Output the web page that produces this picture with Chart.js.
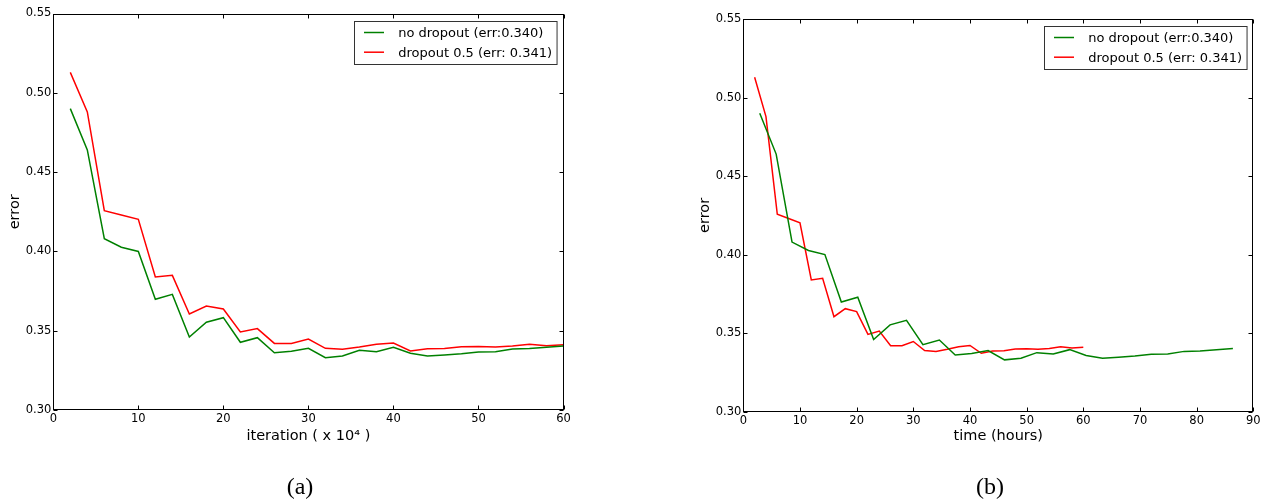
<!DOCTYPE html>
<html>
<head>
<meta charset="utf-8">
<script src="https://cdn.jsdelivr.net/npm/chart.js@4/dist/chart.umd.min.js"></script>
<style>
  html, body { margin: 0; padding: 0; background: #fff; }
  body { width: 1268px; height: 499px; position: relative; overflow: hidden; }
  canvas { position: absolute; top: 0; }
  #chartA { left: 0; }
  #chartB { left: 634px; }
  .caption {
    position: absolute; top: 472px; width: 80px; text-align: center;
    font-family: "Liberation Serif", serif; font-size: 24px; line-height: 28px; color: #000;
  }
</style>
</head>
<body>
<canvas id="chartA" width="634" height="499"></canvas>
<canvas id="chartB" width="634" height="499"></canvas>
<div class="caption" style="left:260px">(a)</div>
<div class="caption" style="left:950px">(b)</div>
<script>
// error values
const iterations = [2, 4, 6, 8, 10, 12, 14, 16, 18, 20, 22, 24, 26, 28, 30,
  32, 34, 36, 38, 40, 42, 44, 46, 48, 50, 52, 54, 56, 58, 60];
const noDropoutErr = [0.490, 0.464, 0.408, 0.4026, 0.400, 0.3698, 0.3729, 0.346, 0.3553, 0.3582,
  0.3427, 0.3456, 0.3361, 0.337, 0.3389, 0.333, 0.334, 0.3376, 0.3367, 0.3395,
  0.3358, 0.334, 0.3347, 0.3355, 0.3366, 0.3368, 0.3384, 0.3387, 0.3395, 0.3403];
const dropoutErr = [0.5129, 0.4879, 0.4257, 0.4230, 0.4202, 0.3839, 0.3849, 0.3605, 0.3656, 0.3637,
  0.3492, 0.3513, 0.342, 0.342, 0.3447, 0.3389, 0.3383, 0.3397, 0.3414, 0.3422,
  0.3372, 0.3386, 0.3388, 0.3399, 0.340, 0.3397, 0.3403, 0.3414, 0.3405, 0.3411];
const noDropoutHours = [2.9, 5.8, 8.6, 11.5, 14.4, 17.3, 20.2, 23.0, 25.9, 28.8,
  31.7, 34.6, 37.4, 40.3, 43.2, 46.1, 49.0, 51.8, 54.7, 57.6,
  60.5, 63.4, 66.2, 69.1, 72.0, 74.9, 77.8, 80.6, 83.5, 86.4];
const dropoutHours = [2, 4, 6, 8, 10, 12, 14, 16, 18, 20, 22, 24, 26, 28, 30,
  32, 34, 36, 38, 40, 42, 44, 46, 48, 50, 52, 54, 56, 58, 60];
const seriesLabels = ["no dropout (err:0.340)", "dropout 0.5 (err: 0.341)"];
const yTicks = [0.30, 0.35, 0.40, 0.45, 0.50, 0.55];

Chart.defaults.font.family = "'DejaVu Sans', sans-serif";
Chart.defaults.color = "#000";

const toPoints = (xs, ys) => xs.map((x, i) => ({ x: x, y: ys[i] }));

// matplotlib style frame: box all round, ticks pointing in, legend in the upper right corner
const framePlugin = {
  id: "frame",
  afterDatasetsDraw(chart) {
    const { ctx, chartArea: a, scales } = chart;
    const l = Math.round(a.left) + 0.5, r = Math.round(a.right) - 0.5;
    const t = Math.round(a.top) + 0.5, b = Math.round(a.bottom) - 0.5;
    ctx.save();
    ctx.strokeStyle = "#000";
    ctx.lineWidth = 1;
    ctx.strokeRect(l, t, r - l, b - t);
    ctx.beginPath();
    scales.x.ticks.forEach(tk => {
      const px = Math.round(scales.x.getPixelForValue(tk.value)) + 0.5;
      ctx.moveTo(px, b); ctx.lineTo(px, b - 4);
      ctx.moveTo(px, t); ctx.lineTo(px, t + 4);
    });
    scales.y.ticks.forEach(tk => {
      const py = Math.round(scales.y.getPixelForValue(tk.value)) + 0.5;
      ctx.moveTo(l, py); ctx.lineTo(l + 4, py);
      ctx.moveTo(r, py); ctx.lineTo(r - 4, py);
    });
    ctx.stroke();

    // legend box
    ctx.font = "13px 'DejaVu Sans'";
    const sets = chart.data.datasets;
    const textW = Math.max(...sets.map(d => ctx.measureText(d.label).width));
    const w = 43.7 + textW + 5, h = 43;
    const bx = Math.round(a.right - 7 - w) + 0.5, by = Math.round(a.top + 7) + 0.5;
    ctx.fillStyle = "#fff";
    ctx.fillRect(bx, by, w, h);
    ctx.strokeStyle = "#333";
    ctx.strokeRect(bx, by, w, h);
    ctx.textBaseline = "middle";
    ctx.textAlign = "left";
    sets.forEach((d, i) => {
      const ry = by + 11 + i * 19.7;
      ctx.strokeStyle = d.borderColor;
      ctx.lineWidth = 1.5;
      ctx.beginPath();
      ctx.moveTo(bx + 9.5, ry); ctx.lineTo(bx + 29.5, ry);
      ctx.stroke();
      ctx.fillStyle = "#000";
      ctx.fillText(d.label, bx + 43.7, ry + 1);
    });
    ctx.restore();
  }
};

function makeChart(id, greenX, redX, xMax, xTitle, geo) {
  return new Chart(document.getElementById(id), {
    type: "line",
    data: {
      datasets: [
        { label: seriesLabels[0], data: toPoints(greenX, noDropoutErr), borderColor: "#008000" },
        { label: seriesLabels[1], data: toPoints(redX, dropoutErr), borderColor: "#ff0000" },
      ],
    },
    options: {
      responsive: false,
      animation: false,
      events: [],
      elements: {
        line: { borderWidth: 1.5, tension: 0, fill: false },
        point: { radius: 0 },
      },
      layout: {
        padding: { left: geo.padL, top: geo.top, right: 634 - geo.right, bottom: 499 - geo.bottom - 40 },
      },
      plugins: { legend: { display: false }, tooltip: { enabled: false } },
      scales: {
        x: {
          type: "linear",
          min: 0,
          max: xMax,
          grid: { display: false, drawTicks: false },
          border: { display: false },
          ticks: { stepSize: 10, padding: 2, font: { size: 11.5 }, maxRotation: 0 },
          title: { display: true, text: xTitle, font: { size: 14.5 }, padding: { top: 0, bottom: geo.bottom + 40 - 8.7 - 436.7 } },
          afterFit(scale) { scale.height = 40; },
        },
        y: {
          min: 0.30,
          max: 0.55,
          grid: { display: false, drawTicks: false },
          border: { display: false },
          afterBuildTicks(scale) { scale.ticks = yTicks.map(v => ({ value: v })); },
          ticks: { padding: 2, font: { size: 11.5 }, callback: v => v.toFixed(2) },
          title: { display: true, text: "error", font: { size: 14.5 }, padding: { top: 6.3, bottom: 0 } },
          afterFit(scale) { scale.width = geo.left - geo.padL; },
        },
      },
    },
    plugins: [framePlugin],
  });
}

makeChart("chartA", iterations, iterations, 60, "iteration ( x 10\u2074 )",
  { padL: 0, left: 53.3, right: 563.5, top: 13.5, bottom: 410 });
makeChart("chartB", noDropoutHours, dropoutHours, 90, "time (hours)",
  { padL: 56.3, left: 109.3, right: 619.3, top: 19, bottom: 411.7 });
</script>
</body>
</html>
